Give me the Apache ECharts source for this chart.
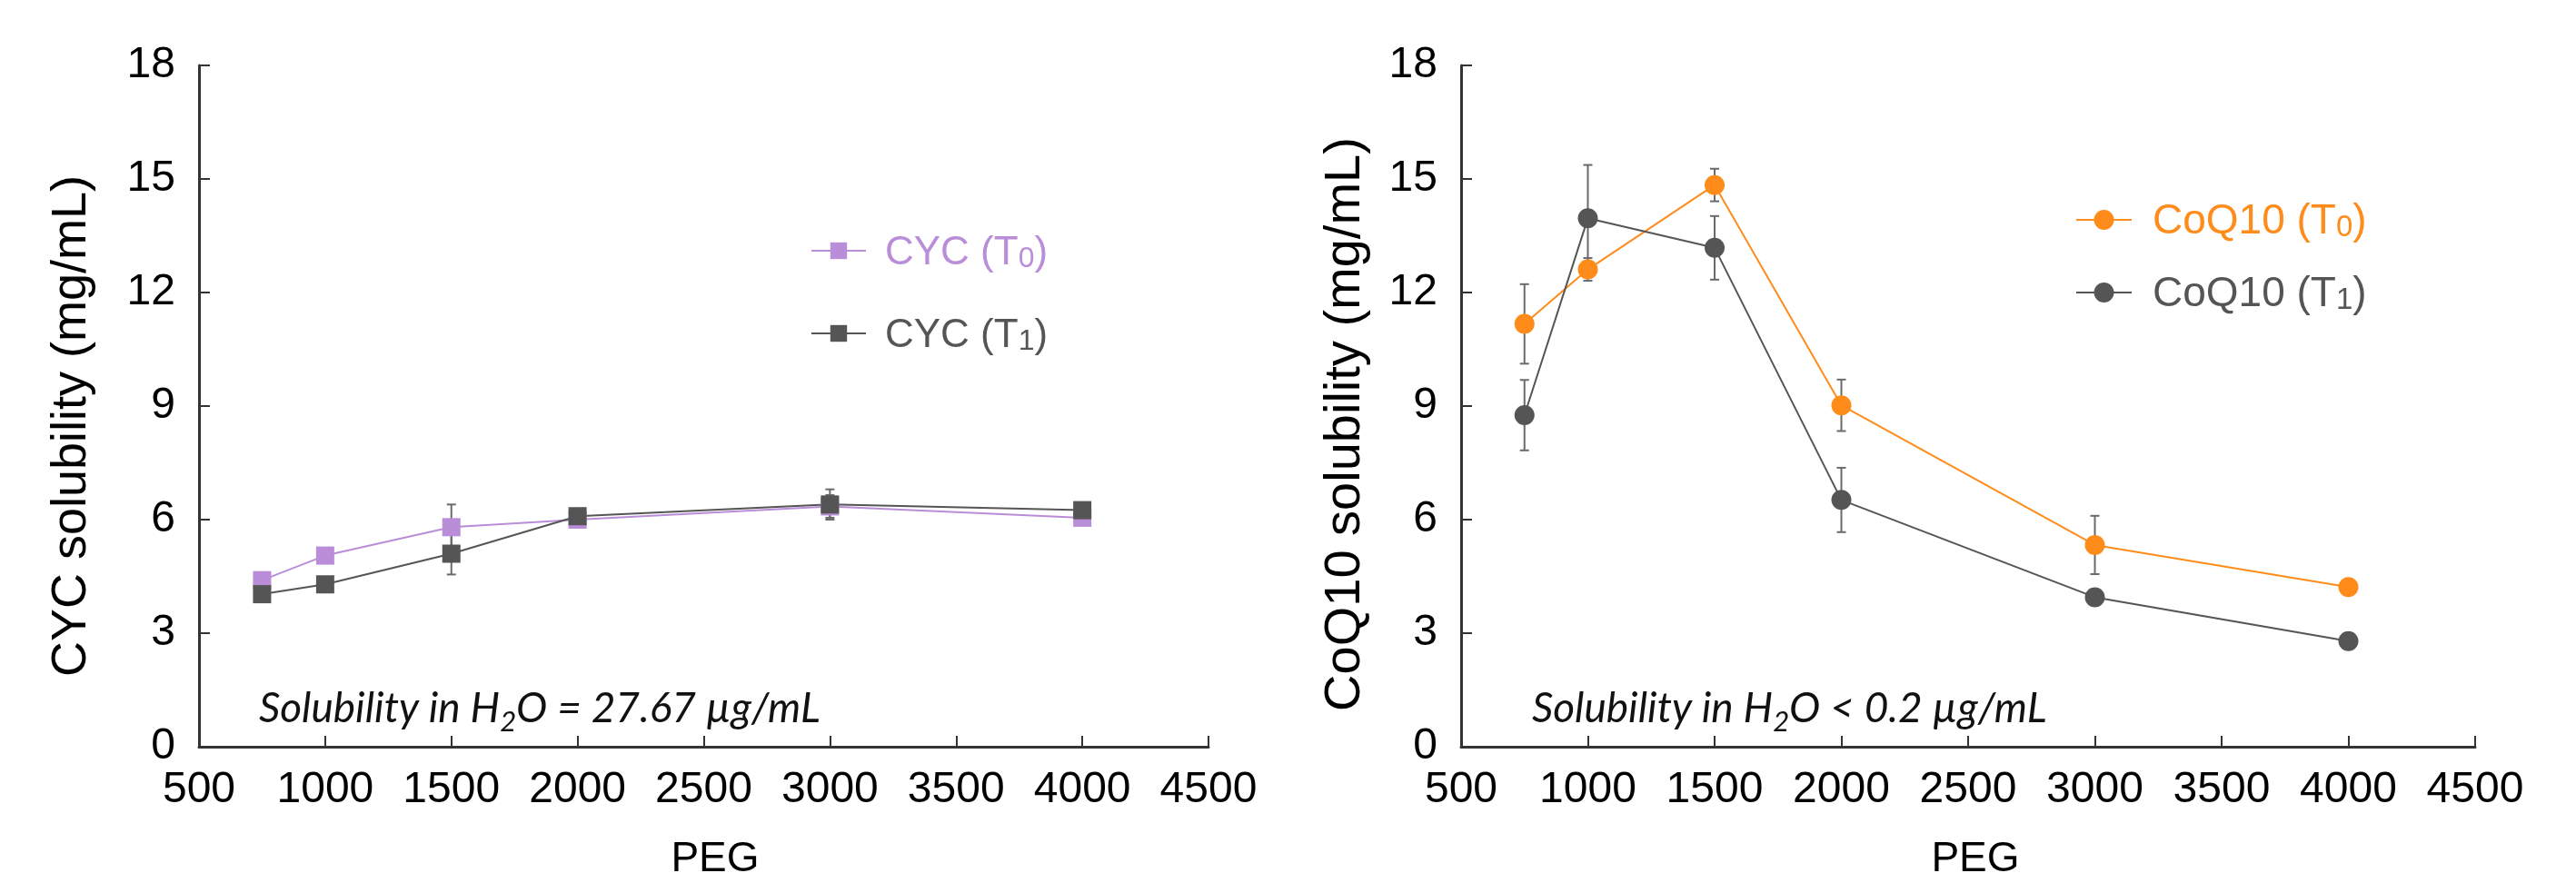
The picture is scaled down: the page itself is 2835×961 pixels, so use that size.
<!DOCTYPE html>
<html>
<head>
<meta charset="utf-8">
<script src="https://cdn.jsdelivr.net/npm/echarts@6/dist/echarts.min.js"></script>
<style>
html,body{margin:0;padding:0;background:#fff;}
#chart{width:2835px;height:961px;}
</style>
</head>
<body>
<div id="chart"></div>
<script>
// ---- data ----
const pegX = [750, 1000, 1500, 2000, 3000, 4000];
const cycT0 = [4.4, 5.05, 5.8, 6.0, 6.35, 6.05];
const cycT1 = [4.03, 4.29, 5.1, 6.09, 6.4, 6.25];
const cycT0Err = [0.15, 0.15, 0.6, 0.1, 0.3, 0.1];
const cycT1Err = [0.1, 0.1, 0.55, 0.1, 0.4, 0.1];
const coqT0 = [11.17, 12.61, 14.84, 9.02, 5.33, 4.22];
const coqT1 = [8.76, 13.96, 13.18, 6.52, 3.95, 2.79];
const coqT0Err = [1.05, 0.3, 0.43, 0.68, 0.77, 0.1];
const coqT1Err = [0.93, 1.41, 0.84, 0.85, 0.15, 0.1];
const seriesNames = ['CYC (T0)', 'CYC (T1)', 'CoQ10 (T0)', 'CoQ10 (T1)'];
const yTitles = ['CYC solubility (mg/mL)', 'CoQ10 solubility (mg/mL)'];
const xTitle = 'PEG';
const notes = [['Solubility in H', '2', 'O = 27.67 µg/mL'], ['Solubility in H', '2', 'O < 0.2 µg/mL']];

// ---- styles ----
const FONT = 'Liberation Sans, Arial, Helvetica, sans-serif';
const PURPLE = '#BA8DD9', DARK = '#555555', ORANGE = '#FF8C1A', ERR = '#6a6a6a';

function pairs(xs, ys){ return xs.map((x,i)=>[x, ys[i]]); }
function errData(xs, ys, es){ return xs.map((x,i)=>[x, ys[i]-es[i], ys[i]+es[i]]); }

function errRender(params, api){
  const x = api.value(0), lo = api.value(1), hi = api.value(2);
  const p1 = api.coord([x, hi]), p2 = api.coord([x, lo]);
  const w = 5;
  const style = {stroke: ERR, lineWidth: 2};
  return {type:'group', children:[
    {type:'line', shape:{x1:p1[0],y1:p1[1],x2:p2[0],y2:p2[1]}, style},
    {type:'line', shape:{x1:p1[0]-w,y1:p1[1],x2:p1[0]+w,y2:p1[1]}, style},
    {type:'line', shape:{x1:p2[0]-w,y1:p2[1],x2:p2[0]+w,y2:p2[1]}, style}
  ]};
}

const grids = [
  {left:219, width:1111, top:72, height:750},
  {left:1608, width:1116, top:72, height:750}
];

function xAxisOpt(i){
  return {type:'value', gridIndex:i, min:500, max:4500, interval:500,
    axisLine:{show:true, onZero:false, lineStyle:{color:'#333', width:3}},
    axisTick:{show:true, inside:true, length:12, lineStyle:{color:'#333', width:2}},
    axisLabel:{fontSize:48, color:'#000', fontFamily:FONT, margin:24, formatter: v => String(v)},
    splitLine:{show:false}};
}
function yAxisOpt(i){
  return {type:'value', gridIndex:i, min:0, max:18, interval:3,
    axisLine:{show:true, lineStyle:{color:'#333', width:3}},
    axisTick:{show:true, inside:true, length:12, lineStyle:{color:'#333', width:2}},
    axisLabel:{fontSize:48, color:'#000', fontFamily:FONT, margin:26, padding:[0,0,18,0]},
    splitLine:{show:false}};
}

function lineSeries(name, xi, data, color, symbol, size){
  return {type:'line', name, xAxisIndex:xi, yAxisIndex:xi, data,
    symbol, symbolSize:size, showSymbol:true,
    lineStyle:{color, width:2}, itemStyle:{color, opacity:1},
    z:3, animation:false};
}
function errSeries(xi, data){
  return {type:'custom', xAxisIndex:xi, yAxisIndex:xi, data,
    renderItem: errRender, encode:{x:0, y:[1,2]}, z:2, silent:true, animation:false};
}

function legendOpt(name, left, top, color, iw, ih, fs, padL){
  return {data:[name], left, top, orient:'vertical', padding:0,
    itemWidth:iw, itemHeight:ih, selectedMode:false,
    formatter: n => '{a|' + n.slice(0, -2) + '}{b|' + n.slice(-2, -1) + '}{a|)}',
    textStyle:{color, fontFamily:FONT, lineHeight:50, padding:[0,0,0,padL],
      rich:{a:{fontSize:fs, color, fontFamily:FONT, lineHeight:50, verticalAlign:'bottom'},
            b:{fontSize:Math.round(fs*0.72), color, fontFamily:FONT, lineHeight:50, verticalAlign:'bottom'}}}};
}

function noteText(parts, x, y){
  return {type:'text', x, y, silent:true, style:{
    text:'{a|' + parts[0] + '}{s|' + parts[1] + '}{a|' + parts[2] + '}',
    align:'left', verticalAlign:'middle',
    rich:{a:{fontSize:46, fontStyle:'italic', fontFamily:'Lato, sans-serif', fill:'#111', lineHeight:60, verticalAlign:'middle'},
          s:{fontSize:31, fontStyle:'italic', fontFamily:'Lato, sans-serif', fill:'#111', lineHeight:60, verticalAlign:'bottom'}}}};
}

const chart = echarts.init(document.getElementById('chart'), null, {renderer:'canvas'});
chart.setOption({
  backgroundColor:'#fff',
  animation:false,
  grid: grids,
  xAxis:[xAxisOpt(0), xAxisOpt(1)],
  yAxis:[yAxisOpt(0), yAxisOpt(1)],
  legend:[
    legendOpt(seriesNames[0], 892, 251, PURPLE, 60, 23, 44, 16),
    legendOpt(seriesNames[1], 892, 342, DARK, 60, 23, 44, 16),
    legendOpt(seriesNames[2], 2284, 217, ORANGE, 61, 27.5, 46, 18),
    legendOpt(seriesNames[3], 2284, 297, DARK, 61, 27.5, 46, 18)
  ],
  series:[
    errSeries(0, errData(pegX, cycT0, cycT0Err)),
    errSeries(0, errData(pegX, cycT1, cycT1Err)),
    lineSeries(seriesNames[0], 0, pairs(pegX, cycT0), PURPLE, 'rect', 20),
    lineSeries(seriesNames[1], 0, pairs(pegX, cycT1), DARK, 'rect', 20),
    errSeries(1, errData(pegX, coqT0, coqT0Err)),
    errSeries(1, errData(pegX, coqT1, coqT1Err)),
    lineSeries(seriesNames[2], 1, pairs(pegX, coqT0), ORANGE, 'circle', 22),
    lineSeries(seriesNames[3], 1, pairs(pegX, coqT1), DARK, 'circle', 22)
  ],
  graphic:[
    {type:'text', x:79, y:469, rotation:Math.PI/2, silent:true,
      style:{text:yTitles[0], fontSize:54, fontFamily:FONT, fill:'#000', align:'center', verticalAlign:'middle'}},
    {type:'text', x:1481, y:467, rotation:Math.PI/2, silent:true,
      style:{text:yTitles[1], fontSize:56, fontFamily:FONT, fill:'#000', align:'center', verticalAlign:'middle'}},
    {type:'text', x:787, y:946, silent:true,
      style:{text:xTitle, fontSize:46, fontFamily:FONT, fill:'#000', align:'center', verticalAlign:'middle'}},
    {type:'text', x:2174, y:946, silent:true,
      style:{text:xTitle, fontSize:46, fontFamily:FONT, fill:'#000', align:'center', verticalAlign:'middle'}},
    noteText(notes[0], 285, 780),
    noteText(notes[1], 1686, 780)
  ]
});
</script>
</body>
</html>
